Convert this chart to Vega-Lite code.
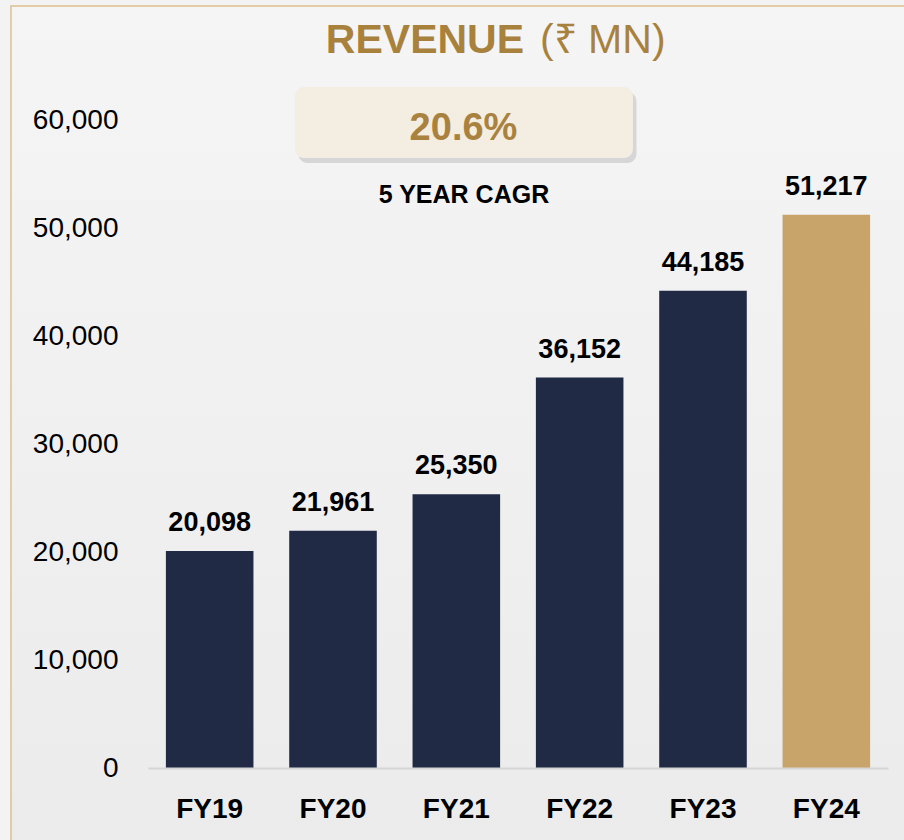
{
  "$schema": "https://vega.github.io/schema/vega-lite/v6.json",
  "width": 740,
  "height": 756,
  "autosize": {"type": "none"},
  "padding": {"left": 148, "top": 12, "right": 16, "bottom": 72},
  "background": "#f3f3f3",
  "config": {"view": {"stroke": null}, "font": "Liberation Sans"},
  "data": {
    "values": [
      {"year": "FY19", "revenue": 20098},
      {"year": "FY20", "revenue": 21961},
      {"year": "FY21", "revenue": 25350},
      {"year": "FY22", "revenue": 36152},
      {"year": "FY23", "revenue": 44185},
      {"year": "FY24", "revenue": 51217}
    ]
  },
  "layer": [
    {
      "data": {"values": [{}]},
      "layer": [
        {
          "mark": {
            "type": "rect",
            "fill": {"gradient": "linear", "x1": 0, "y1": 0, "x2": 0, "y2": 1,
              "stops": [{"offset": 0, "color": "#f5f5f5"}, {"offset": 1, "color": "#ebebeb"}]},
            "stroke": "#dcc08f",
            "strokeWidth": 1.5
          },
          "encoding": {
            "x": {"datum": -1.111, "type": "quantitative", "scale": {"domain": [0, 6], "nice": false, "zero": false}, "axis": null},
            "x2": {"datum": 6.4},
            "y": {"datum": 70556, "type": "quantitative", "scale": {"domain": [0, 70000], "nice": false, "zero": false}, "axis": null},
            "y2": {"datum": -9000}
          }
        },
        {
          "mark": {"type": "rect", "fill": "#bdbdbd", "opacity": 0.55, "cornerRadius": 9},
          "encoding": {
            "x": {"datum": 1.22, "type": "quantitative"},
            "x2": {"datum": 3.96},
            "y": {"datum": 62600, "type": "quantitative"},
            "y2": {"datum": 56020}
          }
        },
        {
          "mark": {"type": "rect", "fill": "#f4ede2", "cornerRadius": 9},
          "encoding": {
            "x": {"datum": 1.192, "type": "quantitative"},
            "x2": {"datum": 3.932},
            "y": {"datum": 63056, "type": "quantitative"},
            "y2": {"datum": 56481}
          }
        },
        {
          "mark": {"type": "text", "text": "REVENUE", "align": "right", "baseline": "alphabetic", "fontSize": 41, "fontWeight": "bold", "fill": "#a8823d"},
          "encoding": {
            "x": {"datum": 3.049, "type": "quantitative"},
            "y": {"datum": 66204, "type": "quantitative"}
          }
        },
        {
          "mark": {"type": "text", "text": "(₹ MN)", "align": "left", "baseline": "alphabetic", "fontSize": 41, "fontWeight": "normal", "fill": "#a8823d"},
          "encoding": {
            "x": {"datum": 3.179, "type": "quantitative"},
            "y": {"datum": 66204, "type": "quantitative"}
          }
        },
        {
          "mark": {"type": "text", "text": "20.6%", "align": "center", "baseline": "alphabetic", "fontSize": 38, "fontWeight": "bold", "fill": "#a9823f"},
          "encoding": {
            "x": {"datum": 2.558, "type": "quantitative"},
            "y": {"datum": 58148, "type": "quantitative"}
          }
        },
        {
          "mark": {"type": "text", "text": "5 YEAR CAGR", "align": "center", "baseline": "alphabetic", "fontSize": 25, "fontWeight": "bold", "fill": "#000000"},
          "encoding": {
            "x": {"datum": 2.562, "type": "quantitative"},
            "y": {"datum": 52315, "type": "quantitative"}
          }
        }
      ]
    },
    {
      "encoding": {
        "x": {
          "field": "year", "type": "nominal", "sort": null,
          "scale": {"paddingInner": 0.29, "paddingOuter": 0.145},
          "axis": {"orient": "bottom", "zindex": 1, "title": null, "labelAngle": 0, "labelFontSize": 28, "labelFontWeight": "bold", "labelColor": "#000000", "labelPadding": 27, "ticks": false, "domainColor": "#d6d6d6", "domainWidth": 2}
        },
        "y": {
          "field": "revenue", "type": "quantitative",
          "scale": {"domain": [0, 70000], "nice": false},
          "axis": {"orient": "left", "zindex": 1, "title": null, "values": [0, 10000, 20000, 30000, 40000, 50000, 60000], "format": ",d", "labelFontSize": 28, "labelColor": "#000000", "labelPadding": 30, "ticks": false, "domain": false, "grid": false}
        }
      },
      "layer": [
        {
          "mark": {"type": "bar"},
          "encoding": {
            "color": {"condition": {"test": "datum.year === 'FY24'", "value": "#c8a46a"}, "value": "#212a45"}
          }
        },
        {
          "mark": {"type": "text", "baseline": "alphabetic", "dy": -20, "fontSize": 27, "fontWeight": "bold", "fill": "#000000"},
          "encoding": {
            "text": {"field": "revenue", "type": "quantitative", "format": ","}
          }
        }
      ]
    }
  ],
  "resolve": {"scale": {"x": "independent", "y": "independent"}}
}
